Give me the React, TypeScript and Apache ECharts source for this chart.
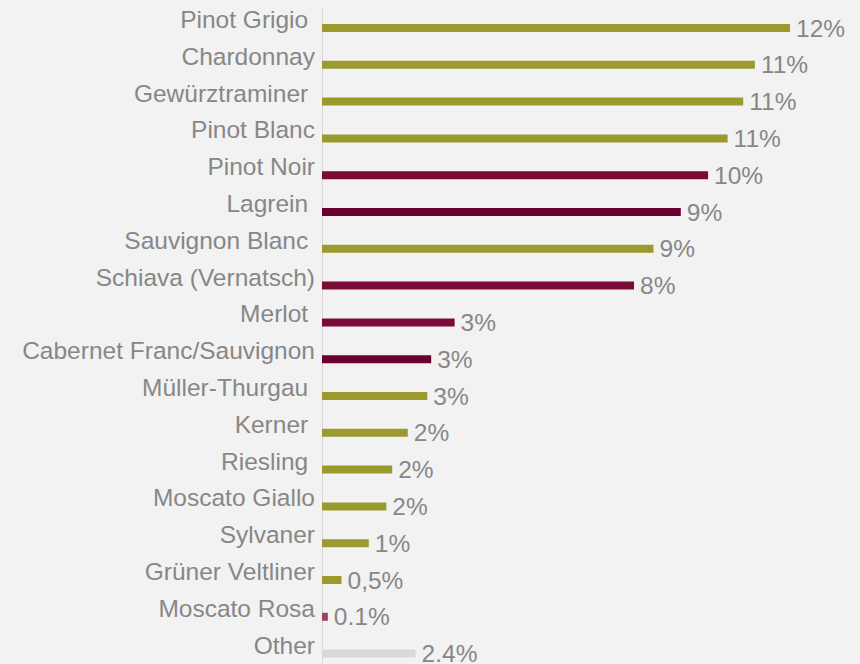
import React, { useEffect, useRef } from "react";
import * as echarts from "echarts";

const categories = [
  "Pinot Grigio ",
  "Chardonnay",
  "Gewürztraminer ",
  "Pinot Blanc",
  "Pinot Noir",
  "Lagrein ",
  "Sauvignon Blanc ",
  "Schiava (Vernatsch)",
  "Merlot ",
  "Cabernet Franc/Sauvignon",
  "Müller-Thurgau ",
  "Kerner ",
  "Riesling ",
  "Moscato Giallo",
  "Sylvaner",
  "Grüner Veltliner",
  "Moscato Rosa",
  "Other",
];

const values = [12.0, 11.1, 10.8, 10.4, 9.9, 9.2, 8.5, 8.0, 3.4, 2.8, 2.7, 2.2, 1.8, 1.65, 1.2, 0.5, 0.15, 2.4];

const valueLabels = ["12%", "11%", "11%", "11%", "10%", "9%", "9%", "8%", "3%", "3%", "3%", "2%", "2%", "2%", "1%", "0,5%", "0.1%", "2.4%"];

const barColors = [
  "#9a9a2e", "#9a9a2e", "#9a9a2e", "#9a9a2e",
  "#7a0a36", "#6a0030", "#9a9a2e", "#7a0a36",
  "#7a0a36", "#6a0030", "#9a9a2e", "#9a9a2e",
  "#9a9a2e", "#9a9a2e", "#9a9a2e", "#9a9a2e",
  "#a3405f", "#d9d9d9",
];

export default function App() {
  const ref = useRef<HTMLDivElement>(null);
  useEffect(() => {
    if (!ref.current) return;
    const chart = echarts.init(ref.current, undefined, { renderer: "svg" });
    const rowH = 36.8;
    chart.setOption({
      animation: false,
      backgroundColor: "#f2f2f2",
      grid: {
        left: 322,
        top: 28 - rowH / 2,
        width: 13 * 39,
        height: rowH * categories.length,
        containLabel: false,
      },
      xAxis: {
        type: "value",
        min: 0,
        max: 13,
        show: false,
        splitLine: { show: false },
      },
      yAxis: {
        type: "category",
        inverse: true,
        data: categories,
        axisLine: { show: true, lineStyle: { color: "#d9d9d9", width: 1 } },
        axisTick: { show: false },
        axisLabel: {
          margin: 7,
          fontSize: 24.5,
          color: "#878787",
          fontFamily: "'Liberation Sans', Arial, sans-serif",
          verticalAlign: "bottom",
          lineHeight: 17,
        },
      },
      series: [
        {
          type: "bar",
          barWidth: 8,
          data: values.map((v, i) => ({ value: v, itemStyle: { color: barColors[i] } })),
          label: {
            show: true,
            position: "right",
            distance: 6,
            fontSize: 24.5,
            color: "#878787",
            fontFamily: "'Liberation Sans', Arial, sans-serif",
            formatter: (p: any) => valueLabels[p.dataIndex],
          },
        },
      ],
    });
    return () => chart.dispose();
  }, []);
  return (
    <div
      ref={ref}
      style={{ position: "fixed", left: 0, top: 0, width: 860, height: 690, background: "#f2f2f2" }}
    />
  );
}
